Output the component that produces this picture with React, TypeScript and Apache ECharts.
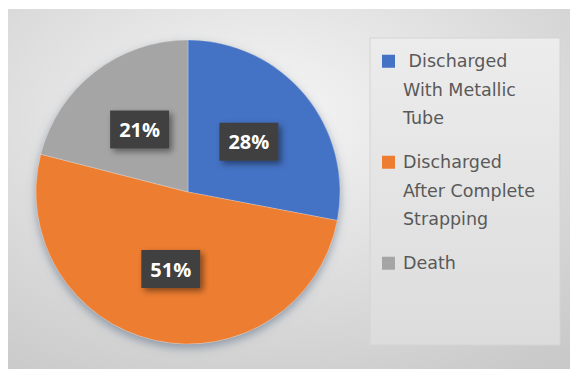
import React, { useEffect, useRef } from "react";
import * as echarts from "echarts";

const categories = [
  "Discharged With Metallic Tube",
  "Discharged After Complete Strapping",
  "Death",
];
const legendLines = [
  [" Discharged", "With Metallic", "Tube"],
  ["Discharged", "After Complete", "Strapping"],
  ["Death", "", ""],
];
const values = [28, 51, 21];
const colors = ["#4472C4", "#ED7D31", "#A5A5A5"];

export default function App() {
  const ref = useRef<HTMLDivElement>(null);
  useEffect(() => {
    if (!ref.current) return;
    const chart = echarts.init(ref.current, undefined, { renderer: "svg" });
    const total = values.reduce((a, b) => a + b, 0);
    const iconPath =
      "path://M0,0h0.01v0.01h-0.01zM15.99,85.49h0.01v0.01h-0.01zM0,7.75h13v13h-13z";
    chart.setOption({
      animation: false,
      backgroundColor: "#ffffff",
      graphic: [
        {
          type: "rect",
          z: -10,
          shape: { x: 8, y: 9, width: 562, height: 360 },
          style: {
            fill: {
              type: "radial",
              x: 0.45,
              y: 0.3,
              r: 0.85,
              colorStops: [
                { offset: 0, color: "#f6f6f6" },
                { offset: 1, color: "#c9c9c9" },
              ],
            },
          },
        },
        {
          type: "rect",
          z: -9,
          shape: { x: 370, y: 38, width: 190, height: 307 },
          style: {
            fill: {
              type: "linear",
              x: 0,
              y: 0,
              x2: 0,
              y2: 1,
              colorStops: [
                { offset: 0, color: "#ececec" },
                { offset: 1, color: "#dcdcdc" },
              ],
            },
            stroke: "#d4d4d4",
            lineWidth: 1,
          },
        },
      ],
      legend: {
        orient: "vertical",
        left: 382,
        top: 47,
        padding: 0,
        itemWidth: 16,
        itemHeight: 85.5,
        itemGap: 15.5,
        icon: iconPath,
        selectedMode: false,
        itemStyle: { borderWidth: 0 },
        data: categories,
        formatter: (name: string) => legendLines[categories.indexOf(name)].join("\n"),
        textStyle: {
          fontFamily: "DejaVu Sans",
          fontSize: 17.5,
          lineHeight: 28.5,
          color: "#595959",
        },
      },
      series: [
        {
          type: "pie",
          z: 1,
          silent: true,
          center: [188, 192],
          radius: 152,
          label: { show: false },
          labelLine: { show: false },
          itemStyle: {
            color: "#c0c0c0",
            shadowBlur: 10,
            shadowOffsetY: 4,
            shadowColor: "rgba(90,110,135,0.6)",
          },
          data: [{ name: "", value: total }],
        },
        {
          type: "pie",
          z: 2,
          center: [188, 192],
          radius: 152,
          startAngle: 90,
          clockwise: true,
          itemStyle: { borderColor: "rgba(255,255,255,0.5)", borderWidth: 0.5 },
          label: {
            show: true,
            position: "inside",
            formatter: "{c}%",
            color: "#ffffff",
            fontFamily: "Open Sans",
            fontSize: 20,
            fontWeight: "bold",
            lineHeight: 22,
            backgroundColor: "#404040",
            padding: [8, 9],
            shadowBlur: 6,
            shadowOffsetX: 3,
            shadowOffsetY: 3,
            shadowColor: "rgba(0,0,0,0.45)",
          },
          labelLine: { show: false },
          data: categories.map((c, i) => ({
            name: c,
            value: values[i],
            itemStyle: { color: colors[i] },
          })),
        },
      ],
    });
    return () => chart.dispose();
  }, []);
  return (
    <div
      ref={ref}
      style={{ position: "absolute", left: 0, top: 0, width: 570, height: 369 }}
    />
  );
}
